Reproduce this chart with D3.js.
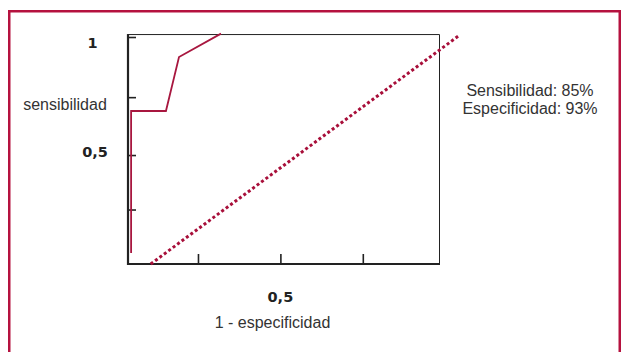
<!DOCTYPE html>
<html>
<head>
<meta charset="utf-8">
<script src="https://cdn.jsdelivr.net/npm/d3@7"></script>
<style>
  html, body { margin: 0; padding: 0; background: #fff; }
  svg { display: block; }
</style>
</head>
<body>
<script>
// ROC curve (1 - especificidad vs sensibilidad)
const rocFpr = [0.01, 0.01, 0.122, 0.164, 0.299];
const rocTpr = [0.048, 0.674, 0.674, 0.912, 1.015];

// reference (chance) diagonal
const diagFpr = [0.073, 1.067];
const diagTpr = [0, 1.009];

// axis ticks and labels
const xTicks = [0.225, 0.49, 0.755];
const xTickLabels = ["", "0,5", ""];
const yTicks = [0.24, 0.48, 0.735, 1];
const yTickLabels = ["", "0,5", "", "1"];
const frameTop = 1.013;

const xTitle = "1 - especificidad";
const yTitle = "sensibilidad";
const summary = ["Sensibilidad: 85%", "Especificidad: 93%"];

const W = 621, H = 352;
const crimson = "#b5123f";
const ink = "#222";

const svg = d3.select("body").append("svg")
  .attr("width", W).attr("height", H);

// outer frame
svg.append("rect")
  .attr("x", 9.25).attr("y", 11.25)
  .attr("width", 610.5).attr("height", 400)
  .attr("fill", "none")
  .attr("stroke", crimson)
  .attr("stroke-width", 2.5);

const x = d3.scaleLinear().domain([0, 1]).range([128, 439]);
const y = d3.scaleLinear().domain([0, 1]).range([264, 37]);

// thin top and right edges of the plot box
svg.append("path")
  .attr("d", `M${x(0)},${y(frameTop) + 0.5}H${x(1) + 0.5}V${y(0)}`)
  .attr("fill", "none")
  .attr("stroke", ink)
  .attr("stroke-width", 1);

// bottom axis
const xAxis = d3.axisTop(x)
  .tickValues(xTicks)
  .tickSize(10)
  .tickFormat("");
const gx = svg.append("g")
  .attr("transform", `translate(0,${y(0)})`)
  .call(xAxis);
gx.select(".domain").remove();
gx.selectAll(".tick line").attr("stroke", ink).attr("stroke-width", 1.6);
gx.append("line")
  .attr("x1", x(0) - 1).attr("x2", x(1) + 1)
  .attr("y1", 0).attr("y2", 0)
  .attr("stroke", ink).attr("stroke-width", 2.2);

// left axis
const yAxis = d3.axisRight(y)
  .tickValues(yTicks)
  .tickSize(8)
  .tickFormat("");
const gy = svg.append("g")
  .attr("transform", `translate(${x(0)},0)`)
  .call(yAxis);
gy.select(".domain").remove();
gy.selectAll(".tick line").attr("stroke", ink).attr("stroke-width", 1.6);
gy.append("line")
  .attr("x1", 0).attr("x2", 0)
  .attr("y1", y(frameTop)).attr("y2", y(0) + 1)
  .attr("stroke", ink).attr("stroke-width", 2.2);

// tick labels
svg.append("g").selectAll("text")
  .data(yTicks.map((v, i) => ({ v, t: yTickLabels[i] })).filter(d => d.t))
  .join("text")
  .attr("x", d => d.v === 1 ? 92.5 : 95)
  .attr("y", d => y(d.v) + (d.v === 1 ? 11 : 2))
  .attr("text-anchor", "middle")
  .attr("font-family", "DejaVu Sans, Verdana, sans-serif")
  .attr("font-weight", "bold")
  .attr("font-size", 14.5)
  .attr("fill", ink)
  .text(d => d.t);

svg.append("g").selectAll("text")
  .data(xTicks.map((v, i) => ({ v, t: xTickLabels[i] })).filter(d => d.t))
  .join("text")
  .attr("x", d => x(d.v))
  .attr("y", 302)
  .attr("text-anchor", "middle")
  .attr("font-family", "DejaVu Sans, Verdana, sans-serif")
  .attr("font-weight", "bold")
  .attr("font-size", 14.5)
  .attr("fill", ink)
  .text(d => d.t);

// axis titles
svg.append("text")
  .attr("x", 65).attr("y", 110)
  .attr("text-anchor", "middle")
  .attr("font-family", "Liberation Sans, Arial, sans-serif")
  .attr("font-size", 16)
  .attr("fill", "#333")
  .text(yTitle);

svg.append("text")
  .attr("x", 272.5).attr("y", 328)
  .attr("text-anchor", "middle")
  .attr("font-family", "Liberation Sans, Arial, sans-serif")
  .attr("font-size", 16)
  .attr("fill", "#333")
  .text(xTitle);

// chance diagonal, dotted
const line = d3.line().x(d => x(d[0])).y(d => y(d[1]));
svg.append("path")
  .datum(diagFpr.map((v, i) => [v, diagTpr[i]]))
  .attr("d", line)
  .attr("fill", "none")
  .attr("stroke", "#a80f3a")
  .attr("stroke-width", 3)
  .attr("stroke-dasharray", "3 2.5");

// ROC curve
svg.append("path")
  .datum(rocFpr.map((v, i) => [v, rocTpr[i]]))
  .attr("d", line)
  .attr("fill", "none")
  .attr("stroke", "#a8173f")
  .attr("stroke-width", 1.8)
  .attr("stroke-linejoin", "miter");

// summary statistics
svg.append("g").selectAll("text")
  .data(summary)
  .join("text")
  .attr("x", 530)
  .attr("y", (d, i) => 96 + i * 17.5)
  .attr("text-anchor", "middle")
  .attr("font-family", "Liberation Sans, Arial, sans-serif")
  .attr("font-size", 16)
  .attr("fill", "#333")
  .text(d => d);
</script>
</body>
</html>
